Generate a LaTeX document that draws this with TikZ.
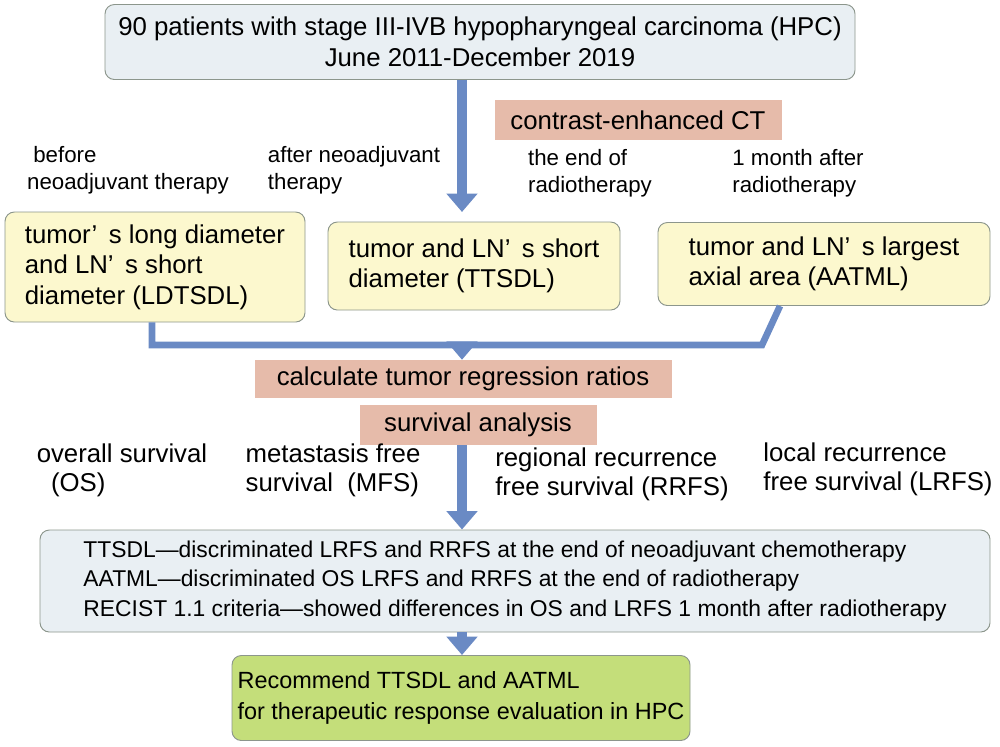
\documentclass[tikz,border=0pt]{standalone}
\usepackage{fontspec}
\setmainfont{Liberation Sans}
\usetikzlibrary{arrows.meta}
\definecolor{flowblue}{RGB}{106,138,196}
\definecolor{boxgray}{RGB}{233,239,243}
\definecolor{boxsalmon}{RGB}{230,187,170}
\definecolor{boxyellow}{RGB}{252,248,206}
\definecolor{boxgreen}{RGB}{196,222,122}
\definecolor{edgegray}{RGB}{140,150,140}
\tikzset{
  base/.style = {draw=edgegray, thick, rounded corners=8pt, align=center, inner sep=2pt, font=\fontsize{22}{26}\selectfont},
  graybox/.style = {base, fill=boxgray},
  yellowbox/.style = {base, fill=boxyellow, align=left},
  greenbox/.style = {base, fill=boxgreen, font=\fontsize{20}{26}\selectfont},
  tagbox/.style = {fill=boxsalmon, align=center, font=\fontsize{22}{26}\selectfont},
  note/.style = {align=left, font=\fontsize{19}{23}\selectfont},
  bignote/.style = {align=left, font=\fontsize{22}{25}\selectfont},
  flow/.style = {flowblue, line width=0.3cm, -{Triangle[width=0.9cm,length=0.55cm]}},
  bar/.style = {flowblue, line width=0.2cm}
}
\begin{document}
\begin{tikzpicture}[x=0.03cm,y=-0.03cm]
  \useasboundingbox (0,0) rectangle (1000,746);
  % top
  \node [graybox, minimum width=750*0.03cm, minimum height=75*0.03cm] (start) at (480,42)
    {90 patients with stage III-IVB hypopharyngeal carcinoma (HPC)\\June 2011-December 2019};
  \node [tagbox, minimum width=287*0.03cm, minimum height=40*0.03cm] (ct) at (638,120) {contrast-enhanced CT};

  % time points
  \node [note] (t1) at (128,170) {\ before\\neoadjuvant therapy};
  \node [note] (t2) at (354,170) {after neoadjuvant\\therapy};
  \node [note] (t3) at (590,173) {the end of\\radiotherapy};
  \node [note] (t4) at (798,173) {1 month after\\radiotherapy};

  % measurements
  \node [yellowbox, minimum width=300*0.03cm, minimum height=110*0.03cm] (ldtsdl) at (155,267)
    {tumor’\ \,s long diameter\\and LN’\ \,s short\\diameter (LDTSDL)};
  \node [yellowbox, minimum width=292*0.03cm, minimum height=88*0.03cm] (ttsdl) at (474,266)
    {tumor and LN’\ \,s short\\diameter (TTSDL)};
  \node [yellowbox, minimum width=332*0.03cm, minimum height=83*0.03cm] (aatml) at (824,264)
    {tumor and LN’\ \,s largest\\axial area (AATML)};

  \draw [flow] (start.south -| 462,0) -- (462,212);
  \coordinate (joinL) at (152,345);
  \coordinate (joinR) at (762,345);
  \coordinate (joinM) at (462,345);
  \draw [bar] (ldtsdl.south -| joinL) -- (joinL) -- (joinR) -- (aatml.south -| 780,0);

  % analysis
  \node [tagbox, minimum width=417*0.03cm, minimum height=38*0.03cm] (ratio) at (463,379) {calculate tumor regression ratios};
  \node [tagbox, minimum width=237*0.03cm, minimum height=40*0.03cm] (surv) at (478,425) {survival analysis};
  \draw [flow] (joinM) -- (ratio.north -| joinM);

  \node [bignote] (os) at (122,470) {overall survival\\\ \ (OS)};
  \node [bignote] (mfs) at (333,470) {metastasis free\\survival \ (MFS)};
  \node [bignote] (rrfs) at (612,474) {regional recurrence\\free survival (RRFS)};
  \node [bignote] (lrfs) at (878,469) {local recurrence\\free survival (LRFS)};

  % results
  \node [graybox, minimum width=950*0.03cm, minimum height=102*0.03cm, align=left, font=\fontsize{19.5}{25}\selectfont] (res) at (515,581)
    {TTSDL—discriminated LRFS and RRFS at the end of neoadjuvant chemotherapy\\
     AATML—discriminated OS LRFS and RRFS at the end of radiotherapy\\
     RECIST 1.1 criteria—showed differences in OS and LRFS 1 month after radiotherapy};
  \draw [flow] (surv.south -| 462,0) -- (res.north -| 462,0);

  \node [greenbox, minimum width=458*0.03cm, minimum height=85*0.03cm, align=left] (rec) at (461,698)
    {Recommend TTSDL and AATML\\ for therapeutic response evaluation in HPC};
  \draw [flow] (res.south -| 462,0) -- (rec.north -| 462,0);
\end{tikzpicture}
\end{document}
